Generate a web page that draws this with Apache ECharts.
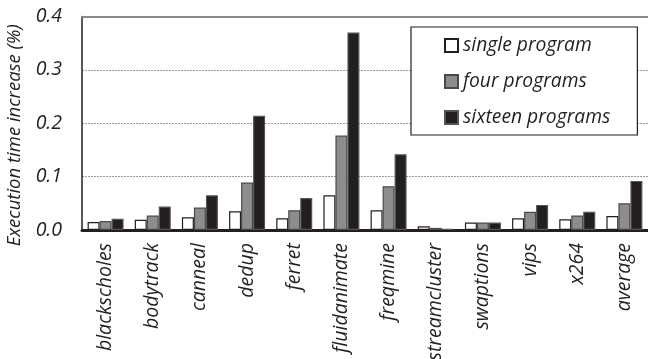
<!DOCTYPE html>
<html>
<head>
<meta charset="utf-8">
<script src="https://cdn.jsdelivr.net/npm/echarts@6/dist/echarts.min.js"></script>
<style>
  html, body { margin: 0; padding: 0; background: #fff; }
  #chart { width: 648px; height: 359px; }
</style>
</head>
<body>
<div id="chart"></div>
<script>
// PARSEC benchmarks and the relative slowdown under each co-run configuration
const benchmarks = ['blackscholes', 'bodytrack', 'canneal', 'dedup', 'ferret', 'fluidanimate',
  'freqmine', 'streamcluster', 'swaptions', 'vips', 'x264', 'average'];
const singleProgram   = [0.015, 0.019, 0.024, 0.035, 0.022, 0.065, 0.037, 0.007, 0.014, 0.022, 0.020, 0.026];
const fourPrograms    = [0.017, 0.027, 0.042, 0.089, 0.037, 0.177, 0.082, 0.004, 0.014, 0.034, 0.027, 0.050];
const sixteenPrograms = [0.021, 0.044, 0.065, 0.214, 0.060, 0.370, 0.142, 0.002, 0.014, 0.047, 0.034, 0.092];
const yTicks = [0, 0.1, 0.2, 0.3, 0.4];

const font = '"Open Sans", "Noto Sans", sans-serif';
const textStyle = { fontFamily: font, fontStyle: 'italic', color: '#231f20' };

const chart = echarts.init(document.getElementById('chart'), null, { renderer: 'canvas' });

function barSeries(name, data, fill, border) {
  return {
    name: name,
    type: 'bar',
    data: data,
    barWidth: 12,
    barGap: '0%',
    itemStyle: { color: fill, borderColor: border, borderWidth: 1.2 },
    emphasis: { disabled: true }
  };
}

chart.setOption({
  animation: false,
  textStyle: textStyle,
  grid: { left: 82, right: 0, top: 16.5, bottom: 129, containLabel: false, outerBoundsMode: 'none' },
  legend: {
    orient: 'vertical',
    left: 411,
    top: 27,
    padding: [9, 27, 8, 33],
    itemGap: 17,
    itemWidth: 13,
    itemHeight: 13,
    icon: 'rect',
    borderColor: '#231f20',
    borderWidth: 1.2,
    backgroundColor: '#fff',
    textStyle: Object.assign({ fontSize: 19.3 }, textStyle),
    data: ['single program', 'four programs', 'sixteen programs']
  },
  xAxis: [{
    type: 'category',
    data: benchmarks,
    axisLine: { lineStyle: { color: '#231f20', width: 3 } },
    axisTick: { show: false },
    axisLabel: Object.assign({ rotate: 90, fontSize: 19.5, margin: 13, interval: 0, hideOverlap: false }, textStyle)
  }, {
    type: 'category',
    position: 'top',
    data: benchmarks,
    axisLine: { lineStyle: { color: '#8a8a8a', width: 2, type: [4, 1] } },
    axisTick: { show: false },
    axisLabel: { show: false }
  }],
  yAxis: {
    type: 'value',
    min: yTicks[0],
    max: yTicks[yTicks.length - 1],
    interval: 0.1,
    name: 'Execution time increase (%)',
    nameLocation: 'middle',
    nameGap: 56,
    nameTextStyle: Object.assign({ fontSize: 18.5, padding: [0, 24, 0, 0] }, textStyle),
    axisLine: { show: true, lineStyle: { color: '#231f20', width: 1.5 } },
    axisTick: { show: false },
    axisLabel: Object.assign({ fontSize: 19.5, margin: 20, formatter: v => v.toFixed(1) }, textStyle),
    splitLine: { show: true, lineStyle: { color: '#9a9a9a', width: 1, type: [2, 1] } }
  },
  series: [
    barSeries('single program', singleProgram, '#ffffff', '#231f20'),
    barSeries('four programs', fourPrograms, '#8d8d8f', '#4a4a4a'),
    barSeries('sixteen programs', sixteenPrograms, '#231f20', '#555555')
  ]
});
</script>
</body>
</html>
